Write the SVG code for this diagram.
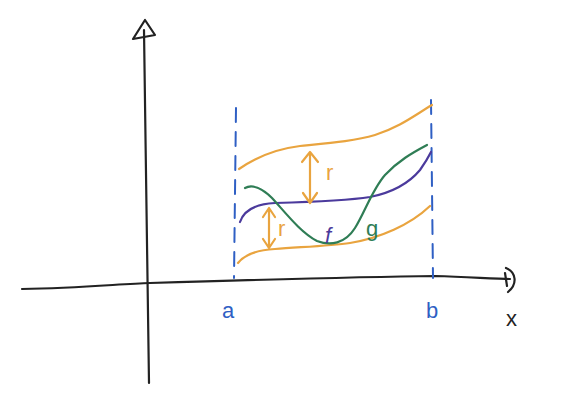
<svg xmlns="http://www.w3.org/2000/svg" width="585" height="398" viewBox="0 0 585 398">
<style>
.ax{fill:none;stroke:#222;stroke-width:2.2;stroke-linecap:round;stroke-linejoin:round}
.bl{fill:none;stroke:#2f5fc4;stroke-width:2;stroke-dasharray:14 10;stroke-linecap:round}
.or{fill:none;stroke:#e9a43f;stroke-width:2.2;stroke-linecap:round;stroke-linejoin:round}
.pu{fill:none;stroke:#4b3a9c;stroke-width:2.2;stroke-linecap:round}
.gr{fill:none;stroke:#2f7d55;stroke-width:2.2;stroke-linecap:round}
.t{font-family:"Liberation Sans",sans-serif;font-size:22px}
</style>
<rect width="585" height="398" fill="#fff"/>
<!-- axes -->
<path class="ax" d="M22,289 C80,288 120,284 150,283 C250,280 350,277 435,276 C470,277 495,279 510,279"/>
<path class="ax" d="M506,268 C516,272 518,284 508,292 M505,273 L507,286"/>
<path class="ax" d="M149,383 C147,300 146,150 144,30"/>
<path class="ax" d="M145,20 L133,39 L155,35 Z"/>
<!-- dashed verticals -->
<path class="bl" d="M236,108 L234,278"/>
<path class="bl" d="M431,100 L433,278"/>
<!-- orange curves -->
<path class="or" d="M239,169 C255,158 275,149 300,146 C330,143 355,141 375,135 C400,127 415,115 432,105"/>
<path class="or" d="M238,263 C245,254 258,250 275,249 C300,247 330,246 350,243 C380,238 410,225 430,206"/>
<!-- f purple -->
<path class="pu" d="M240,222 C244,210 255,204 275,203 C310,202 345,201 370,197 C395,192 410,182 420,170 C425,163 428,158 431,152"/>
<!-- g green -->
<path class="gr" d="M245,188 C252,184 262,188 272,198 C285,212 300,232 317,241 C330,246 345,244 355,228 C365,212 372,190 385,175 C398,161 412,153 427,145"/>
<!-- r arrows -->
<path class="or" d="M310,153 L310,202 M302,162 L310,152 L318,162 M303,193 L310,203 L317,193"/>
<path class="or" d="M269,209 L269,247 M263,217 L269,208 L275,217 M263,239 L269,248 L275,239"/>
<!-- labels -->
<text class="t" x="326" y="180" fill="#e9a43f">r</text>
<text class="t" x="278" y="236" fill="#e9a43f" font-size="18">r</text>
<text class="t" x="325" y="243" fill="#4b3a9c" font-style="italic" font-size="28">f</text>
<text class="t" x="366" y="236" fill="#2f7d55" font-size="24">g</text>
<text class="t" x="222" y="318" fill="#2f5fc4">a</text>
<text class="t" x="426" y="318" fill="#2f5fc4">b</text>
<text class="t" x="506" y="326" fill="#222">x</text>
</svg>
